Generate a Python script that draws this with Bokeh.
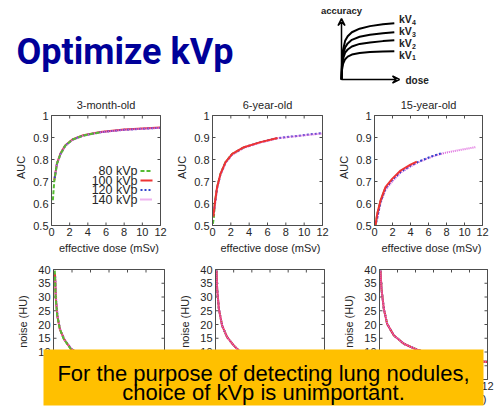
import math
from bokeh.plotting import figure
from bokeh.models import Range1d, Arrow, VeeHead
from bokeh.core.properties import value
from bokeh.embed import file_html
from bokeh.resources import INLINE

# ---------------- data ----------------
slide_title = "Optimize kVp"
panel_titles = ["3-month-old", "6-year-old", "15-year-old"]
kvp_labels = ["80 kVp", "100 kVp", "120 kVp", "140 kVp"]
dose_ticks = [0, 2, 4, 6, 8, 10, 12]
dose_tick_labels = ["0", "2", "4", "6", "8", "10", "12"]
auc_ticks = [0.5, 0.6, 0.7, 0.8, 0.9, 1.0]
auc_tick_labels = ["0.5", "0.6", "0.7", "0.8", "0.9", "1"]
noise_ticks = [0, 5, 10, 15, 20, 25, 30, 35, 40]
noise_tick_labels = ["0", "5", "10", "15", "20", "25", "30", "35", "40"]
x_label = "effective dose (mSv)"
auc_label = "AUC"
noise_label = "noise (HU)"
message = ["For the purpose of detecting lung nodules,", "choice of kVp is unimportant."]

# AUC vs dose, 3-month-old
a1_dose_80 = [0.15, 0.3, 0.6, 1.0, 1.5, 2.3, 3.5, 5.4]
a1_auc_80 = [0.615, 0.700, 0.780, 0.826, 0.862, 0.890, 0.909, 0.924]
a1_dose_100 = [0.3, 0.6, 1.0, 1.5, 2.3, 3.5, 5.4, 8.0, 12.0]
a1_auc_100 = [0.705, 0.782, 0.828, 0.864, 0.891, 0.910, 0.925, 0.936, 0.945]
a1_dose_120 = [0.35, 0.6, 1.0, 1.5, 2.3, 3.5, 5.4, 8.0, 12.0]
a1_auc_120 = [0.715, 0.780, 0.826, 0.862, 0.890, 0.909, 0.924, 0.935, 0.944]
a1_dose_140 = [0.4, 0.6, 1.0, 1.5, 2.3, 3.5, 5.4, 8.0, 12.0]
a1_auc_140 = [0.725, 0.778, 0.824, 0.861, 0.889, 0.908, 0.924, 0.935, 0.944]

# AUC vs dose, 6-year-old
a2_dose_80 = [0.04, 0.15, 0.25, 0.5, 0.87, 1.42, 2.15, 3.5]
a2_auc_80 = [0.508, 0.538, 0.600, 0.674, 0.735, 0.788, 0.826, 0.856]
a2_dose_100 = [0.1, 0.25, 0.5, 0.87, 1.42, 2.15, 3.42, 5.24, 7.1]
a2_auc_100 = [0.540, 0.600, 0.674, 0.735, 0.788, 0.826, 0.856, 0.879, 0.898]
a2_dose_120 = [0.15, 0.5, 0.87, 1.42, 2.15, 3.42, 5.24, 7.05, 9.6, 11.9]
a2_auc_120 = [0.560, 0.670, 0.732, 0.786, 0.824, 0.855, 0.879, 0.897, 0.909, 0.920]
a2_dose_140 = [0.2, 0.5, 0.87, 1.42, 2.15, 3.42, 5.24, 7.05, 9.6, 11.9]
a2_auc_140 = [0.575, 0.668, 0.730, 0.784, 0.822, 0.853, 0.877, 0.896, 0.908, 0.918]

# AUC vs dose, 15-year-old
a3_dose_80 = [0.11, 0.3, 0.67, 1.2]
a3_auc_80 = [0.500, 0.550, 0.610, 0.670]
a3_dose_100 = [0.11, 0.3, 0.67, 1.22, 1.96, 2.9, 4.0, 4.7]
a3_auc_100 = [0.500, 0.553, 0.614, 0.674, 0.712, 0.750, 0.777, 0.790]
a3_dose_120 = [0.2, 0.67, 1.22, 1.96, 2.9, 4.0, 5.0, 6.6, 7.6]
a3_auc_120 = [0.515, 0.608, 0.668, 0.706, 0.744, 0.772, 0.792, 0.818, 0.830]
a3_dose_140 = [0.3, 0.67, 1.22, 1.96, 2.9, 4.0, 5.0, 6.6, 7.9, 9.6, 11.2]
a3_auc_140 = [0.530, 0.602, 0.662, 0.700, 0.740, 0.768, 0.790, 0.816, 0.831, 0.844, 0.856]

# noise vs dose
n1_dose_80 = [0.14, 0.22, 0.4, 0.68, 1.1, 1.84, 3.0, 5.0]
n1_noise_80 = [39.6, 30.5, 23.3, 18.4, 14.8, 11.2, 8.8, 6.8]
n1_dose_100 = [0.16, 0.25, 0.42, 0.7, 1.15, 1.9, 3.2, 5.5, 8.0, 12.0]
n1_noise_100 = [38.5, 29.5, 23.0, 18.2, 14.6, 11.0, 8.6, 6.6, 5.4, 4.4]
n1_dose_120 = [0.18, 0.27, 0.45, 0.72, 1.2, 1.95, 3.3, 5.5, 8.0, 12.0]
n1_noise_120 = [37.5, 29.0, 22.6, 18.0, 14.4, 11.0, 8.5, 6.6, 5.4, 4.4]
n1_dose_140 = [0.2, 0.3, 0.48, 0.75, 1.25, 2.0, 3.4, 5.5, 8.0, 12.0]
n1_noise_140 = [36.5, 28.5, 22.3, 17.8, 14.2, 10.9, 8.4, 6.6, 5.4, 4.4]

n2_dose = [0.11, 0.18, 0.37, 0.73, 1.28, 2.0, 2.57, 4.0, 6.0, 9.0, 12.0]
n2_noise = [39.6, 33.0, 25.7, 19.6, 15.4, 12.4, 10.5, 8.6, 7.0, 5.8, 5.0]

n3_dose = [0.11, 0.22, 0.48, 0.85, 1.6, 2.7, 4.2, 6.0, 9.0, 12.0]
n3_noise = [39.6, 33.0, 25.7, 20.2, 16.0, 13.0, 10.8, 9.0, 7.4, 6.4]

# schematic (arbitrary units)
sch_dose = [0, 0.1, 0.3, 0.7, 1.2, 2.0, 3.5, 5.5, 8.0, 10.2]
sch_kv4 = [0, 3.5, 5.8, 7.6, 8.5, 9.3, 10.0, 10.5, 10.85, 11.05]
sch_kv3 = [0, 3.0, 4.9, 6.3, 7.1, 7.8, 8.4, 8.8, 9.1, 9.3]
sch_kv2 = [0, 2.5, 4.1, 5.3, 5.9, 6.5, 7.0, 7.3, 7.55, 7.7]
sch_kv1 = [0, 1.9, 3.1, 4.0, 4.5, 4.9, 5.2, 5.4, 5.5, 5.57]
sch_names = ["kV", "kV", "kV", "kV"]
sch_subs = ["4", "3", "2", "1"]

# ---------------- styles ----------------
FONT = value("Liberation Sans")
TXT = "#262626"
FRAME = "#4d4d4d"
series_style = [
    dict(line_color="#55bb33", line_dash="4 2", line_width=2),
    dict(line_color="#ee3333", line_dash="solid", line_width=2),
    dict(line_color="#3344cc", line_dash="2 2", line_width=2),
    dict(line_color="#dd66dd", line_dash="1 1", line_width=2),
]

p = figure(width=496, height=407, x_range=Range1d(0, 496), y_range=Range1d(407, 0),
           output_backend="svg", toolbar_location=None,
           x_axis_location=None, y_axis_location=None, min_border=0)
p.grid.visible = False
p.outline_line_color = None
p.background_fill_color = "white"
p.border_fill_color = "white"

# title
p.text(x=[16], y=[51], text=[slide_title], text_font=value("Roboto"), text_font_style="bold",
       text_font_size="36px", text_color="#000099", text_baseline="alphabetic")


def make_panel(xl, xr, yb, yt, ymin, ymax, yticks, ylabels, ylab, title=None, xlab_y=None):
    sub = p.subplot(x_source=Range1d(0, 12), y_source=Range1d(ymin, ymax),
                    x_target=Range1d(xl, xr), y_target=Range1d(yb, yt))
    pxx = 12.0 / (xr - xl)
    pxy = (ymax - ymin) / (yb - yt)
    tl = 3
    # ticks inward on all sides
    sub.segment(x0=dose_ticks, y0=[ymin] * 7, x1=dose_ticks, y1=[ymin + tl * pxy] * 7,
                line_color=FRAME, line_width=1)
    sub.segment(x0=dose_ticks, y0=[ymax] * 7, x1=dose_ticks, y1=[ymax - tl * pxy] * 7,
                line_color=FRAME, line_width=1)
    n = len(yticks)
    sub.segment(x0=[0] * n, y0=yticks, x1=[tl * pxx] * n, y1=yticks, line_color=FRAME, line_width=1)
    sub.segment(x0=[12] * n, y0=yticks, x1=[12 - tl * pxx] * n, y1=yticks, line_color=FRAME, line_width=1)
    sub.text(x=dose_ticks, y=[ymin] * 7, text=dose_tick_labels, y_offset=2,
             text_align="center", text_baseline="top", text_font=FONT,
             text_font_size="11px", text_color=TXT)
    sub.text(x=[0] * n, y=yticks, text=ylabels, x_offset=-3, text_align="right",
             text_baseline="middle", text_font=FONT, text_font_size="11px", text_color=TXT)
    cx = (xl + xr) / 2
    p.text(x=[xl - 31], y=[(yb + yt) / 2 - 3], text=[ylab], angle=math.pi / 2,
           text_align="center", text_baseline="middle", text_font=FONT,
           text_font_size="11px", text_color=TXT)
    p.text(x=[cx + 3], y=[xlab_y if xlab_y else yb + 22], text=[x_label], text_align="center",
           text_baseline="middle", text_font=FONT, text_font_size="11px", text_color=TXT)
    if title:
        p.text(x=[cx], y=[yt - 11], text=[title], text_align="center", text_baseline="middle",
               text_font=FONT, text_font_size="11px", text_color=TXT)
    return sub


def frame(sub, ymin, ymax):
    sub.quad(left=[0], right=[12], bottom=[ymin], top=[ymax], fill_color=None,
             line_color=FRAME, line_width=1)


top_frames = [(51, 160), (212, 322), (374, 482)]
bot_frames = [(53, 164), (215, 324), (379, 487)]

auc_sets = [
    [(a1_dose_80, a1_auc_80), (a1_dose_100, a1_auc_100), (a1_dose_120, a1_auc_120), (a1_dose_140, a1_auc_140)],
    [(a2_dose_80, a2_auc_80), (a2_dose_100, a2_auc_100), (a2_dose_120, a2_auc_120), (a2_dose_140, a2_auc_140)],
    [(a3_dose_80, a3_auc_80), (a3_dose_100, a3_auc_100), (a3_dose_120, a3_auc_120), (a3_dose_140, a3_auc_140)],
]
order_top = [[1, 2, 3, 0], [0, 2, 3, 1], [0, 3, 2, 1]]

for i, (xl, xr) in enumerate(top_frames):
    sub = make_panel(xl, xr, 225, 115, 0.5, 1.0, auc_ticks, auc_tick_labels, auc_label,
                     title=panel_titles[i])
    for k in order_top[i]:
        d, a = auc_sets[i][k]
        sub.line(x=d, y=a, **series_style[k])
    frame(sub, 0.5, 1.0)

# legend in first panel
leg_y = [170.5, 180, 189.5, 199]
for k, lab in enumerate(kvp_labels):
    p.text(x=[137], y=[leg_y[k]], text=[lab], text_align="right", text_baseline="middle",
           text_font=FONT, text_font_size="12.5px", text_color=TXT)
    p.segment(x0=[140], y0=[leg_y[k]], x1=[152], y1=[leg_y[k]], **series_style[k])

noise_sets = [
    [(n1_dose_80, n1_noise_80), (n1_dose_100, n1_noise_100), (n1_dose_120, n1_noise_120), (n1_dose_140, n1_noise_140)],
    [(n2_dose, n2_noise)] * 4,
    [(n3_dose, n3_noise)] * 4,
]
for i, (xl, xr) in enumerate(bot_frames):
    sub = make_panel(xl, xr, 379, 269, 0, 40, noise_ticks, noise_tick_labels, noise_label,
                     xlab_y=398)
    for k in ([2, 1, 3, 0] if i == 0 else [0, 2, 1, 3]):
        d, n = noise_sets[i][k]
        sub.line(x=d, y=n, **series_style[k])
    frame(sub, 0, 40)

# schematic
sch = p.subplot(x_source=Range1d(0, 11.2), y_source=Range1d(0, 12),
                x_target=Range1d(341, 399), y_target=Range1d(79, 18))
for curve in [sch_kv1, sch_kv2, sch_kv3, sch_kv4]:
    sch.line(x=sch_dose, y=curve, line_color="black", line_width=2)
p.add_layout(Arrow(end=VeeHead(size=7, line_color="black", line_width=1.5, fill_color=None),
                   x_start=341, y_start=79, x_end=341, y_end=18, line_width=1.5))
p.add_layout(Arrow(end=VeeHead(size=7, line_color="black", line_width=1.5, fill_color=None),
                   x_start=341, y_start=79, x_end=399, y_end=79, line_width=1.5))
p.text(x=[341], y=[9.5], text=["accuracy"], text_align="center", text_baseline="middle",
       text_font=FONT, text_font_style="bold", text_font_size="9.5px", text_color="#222222")
p.text(x=[405], y=[80], text=["dose"], text_align="left", text_baseline="middle",
       text_font=FONT, text_font_style="bold", text_font_size="10px", text_color="#222222")
lab_y = [18.5, 30.5, 42.5, 54]
p.text(x=[398.5] * 4, y=lab_y, text=sch_names, text_align="left", text_baseline="middle",
       text_font=FONT, text_font_style="bold", text_font_size="10.5px", text_color="#222222")
p.text(x=[411.5] * 4, y=[v + 3 for v in lab_y], text=sch_subs, text_align="left",
       text_baseline="middle", text_font=FONT, text_font_style="bold",
       text_font_size="7px", text_color="#222222")

# yellow message box
p.quad(left=[43], right=[483], top=[349], bottom=[405], fill_color="#ffc000", line_color=None)
p.text(x=[263, 263], y=[373, 392], text=message, text_align="center", text_baseline="alphabetic",
       text_font=FONT, text_font_size="22px", text_color="black")

open("out.html", "w").write(file_html(p, INLINE))
